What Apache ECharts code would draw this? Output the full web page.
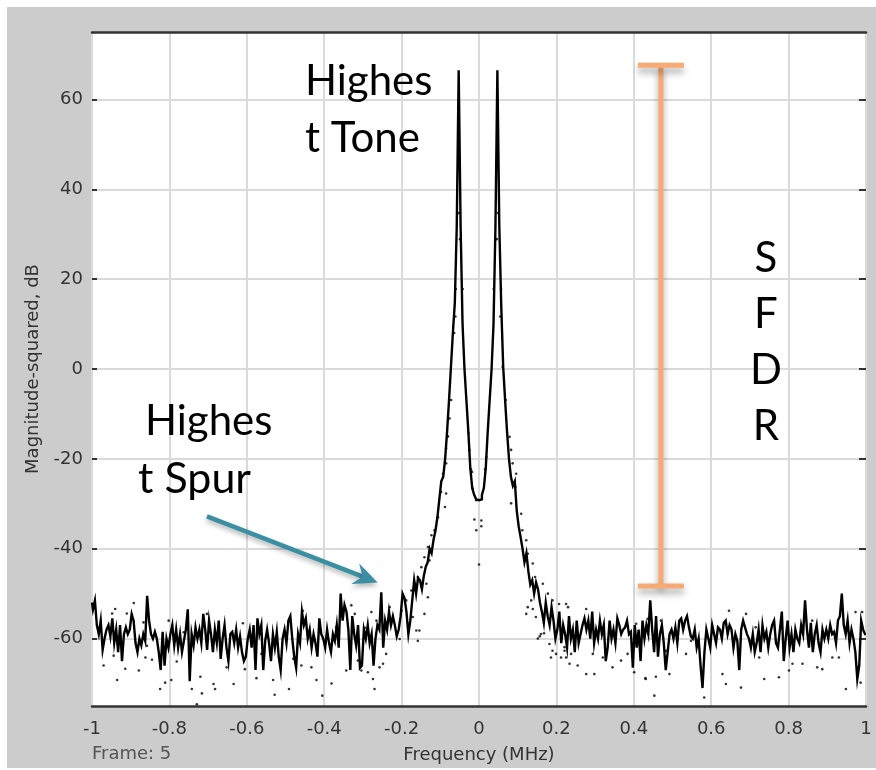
<!DOCTYPE html>
<html>
<head>
<meta charset="utf-8">
<script src="https://cdn.jsdelivr.net/npm/echarts@6/dist/echarts.min.js"></script>
<style>
  html, body { margin: 0; padding: 0; background: #ffffff; }
  #frame { position: absolute; left: 7px; top: 7px; width: 869px; height: 761px; background: #cccccc; }
  #chart { position: absolute; left: 0; top: 0; width: 876px; height: 770px; }
</style>
</head>
<body>
<div id="frame"></div>
<div id="chart"></div>
<script>
// Spectrum bins: -1 MHz .. +1 MHz in 5 kHz steps
const binStartMHz = -1;
const binStepMHz = 0.005;

// Magnitude-squared (dB) of each bin, drawn as a stepped trace
const magnitudeDb = [
  -52, -53.5, -51.5, -57, -59, -56, -62.5, -60, -58, -57, -59.5, -55.5, -61, -58, -63, -57, -65, -59, -57.5, -59,
  -58, -54.5, -56, -61, -63, -60, -61.5, -59, -60.5, -50.5, -56, -59, -60, -58.5, -60, -63, -67, -58.5, -66, -60,
  -62, -59, -57, -61.5, -58, -62, -59, -63, -60.5, -58, -53.5, -69.5, -59, -61.5, -57.5, -60, -58, -61, -54.5, -58,
  -62.5, -56, -59, -63, -58, -61, -56, -64.5, -60, -57, -62, -65, -59, -58.5, -61, -58, -62, -59.5, -63, -65,
  -64, -60, -58, -62, -57, -67, -55.5, -59, -57, -67, -60.5, -58, -61, -65, -59, -62, -58.5, -64, -67, -60,
  -58, -61, -56, -55, -60, -64, -66.5, -59, -61, -54, -57, -55.5, -60, -58, -62, -59, -61, -64, -55.5, -59,
  -60, -62, -58, -61, -63, -59, -60.5, -57, -62, -50, -56, -52.5, -54, -58, -67, -55, -59, -61.5, -57, -66.5,
  -66, -58, -60, -57, -61, -59, -66, -60, -57, -58, -49.7, -62, -56, -58, -54, -57, -55, -57, -59.5, -58,
  -55, -50, -51, -54, -59, -56, -51.5, -47, -50, -46.5, -47, -49, -46, -44, -43, -40, -41, -38, -36, -33,
  -29, -25, -24, -20, -14, -7, 0.5, 8, 14.7, 31.7, 66.5, 31.7, 10, 0, -7, -14, -22, -26.5, -28, -29,
  -29.2, -29, -28, -26.5, -22, -14, -7, 0, 10, 31.7, 66.5, 31.7, 14, 0.5, -7, -14, -20, -24, -26, -25,
  -31.5, -35, -37.4, -40, -43, -41, -45, -48, -47, -50, -47.5, -49, -52, -54, -56.5, -52, -55, -57, -53, -56,
  -60, -58, -54, -61, -57, -59, -62, -55, -60, -58, -63, -56, -61, -59, -57, -55.5, -58, -56, -60, -54,
  -61, -58, -60, -56, -59, -57, -65, -62, -56, -60, -58, -61, -55.5, -57, -59, -58, -57.5, -56, -59, -58.5,
  -66.5, -57, -62, -58, -65, -56, -60, -57, -59, -51.5, -58, -63, -55, -64, -59, -57, -61, -67, -63, -59,
  -58, -60, -57.5, -61, -56, -55.5, -58, -56, -55, -57.5, -59.5, -60, -58, -62, -60, -66, -71, -63, -58, -60,
  -62, -57, -59, -61, -57.5, -58, -60, -56.5, -56, -59, -57, -58, -62, -59, -60.5, -67, -58, -56, -57.5, -59,
  -60, -62, -59, -63, -61, -58, -63, -57, -60, -58.5, -62, -59, -57, -56, -61, -62, -58, -54, -65, -60,
  -56, -62, -59, -63, -58, -60, -61, -57, -59, -51.5, -58, -62, -56.5, -63, -59, -57, -61, -63, -58, -60,
  -58, -60, -57, -59, -58.5, -61, -56, -55, -50, -57, -59, -56, -61, -58, -60, -63, -69, -66, -56, -58,
  -59
];

// Second trace shown as loose points: [frequency MHz, dB]
const traceDots = [
  [-0.97,-66],[-0.948,-54.4],[-0.944,-63.8],[-0.94,-53.4],[-0.935,-69.2],[-0.914,-66.7],[-0.91,-54.4],[-0.892,-52.1],
  [-0.879,-67.1],[-0.867,-56.4],[-0.862,-64.2],[-0.858,-61.6],[-0.845,-64.7],[-0.824,-71.2],[-0.811,-69.8],[-0.802,-56],
  [-0.795,-69.2],[-0.781,-65.1],[-0.763,-58.6],[-0.742,-71.2],[-0.729,-74.6],[-0.72,-68.5],[-0.716,-72.2],[-0.703,-54.5],
  [-0.686,-70.1],[-0.682,-71.2],[-0.652,-66.4],[-0.634,-70.1],
  [-0.61,-56.6],[-0.605,-66.8],[-0.575,-68.8],[-0.562,-63.4],[-0.532,-69.2],[-0.528,-72.5],[-0.491,-71.2],[-0.48,-64.5],
  [-0.459,-66],[-0.455,-53.8],[-0.433,-66.4],[-0.42,-69.2],[-0.405,-72.7],[-0.381,-70],[-0.369,-57.5],[-0.343,-67.1],
  [-0.33,-52.6],[-0.321,-54.5],[-0.313,-64.9],[-0.304,-67.1],[-0.295,-57.6],[-0.287,-67.5],[-0.278,-54.1],[-0.274,-69],
  [-0.27,-71.2],[-0.265,-56],[-0.257,-66.4],[-0.248,-65.6],
  [-0.24,-63.4],[-0.231,-53],[-0.227,-56.7],[-0.205,-60.1],[-0.2,-53.8],[-0.188,-51.5],[-0.175,-49.3],[-0.171,-55.2],
  [-0.166,-47.8],[-0.162,-58.2],[-0.158,-46.3],[-0.158,-60.5],[-0.154,-58.2],[-0.149,-44.1],[-0.141,-41.9],[-0.141,-54.5],
  [-0.136,-47.8],[-0.132,-39.6],[-0.132,-50.8],[-0.128,-42.6],[-0.123,-37],[-0.115,-35.9],[-0.106,-33],[-0.098,-27.4],
  [-0.093,-23.3],[-0.088,-30.7],[-0.085,-17.7],[-0.085,-21],[-0.085,-27.7],[-0.08,-15],[-0.076,-11],[-0.072,-6.9],
  [-0.064,8],[-0.061,11.7],[-0.06,17.8],[-0.052,34.7],[-0.049,28.9],[-0.042,17.8],
  [-0.027,-14.3],[-0.025,-18],[-0.021,-22.3],[-0.018,-22.9],[-0.016,-26.6],[-0.012,-33.5],[-0.007,-29.2],[-0.007,-35.9],
  [0,-43.5],[0.006,-33.7],[0.006,-35],[0.016,-22.3],[0.019,-19.6],
  [0.038,17.8],[0.046,28.9],[0.049,34.7],[0.055,11.7],[0.057,17.8],[0.061,0.5],[0.069,-6.9],[0.079,-15.1],[0.083,-18],
  [0.083,-29.9],[0.087,-21],[0.094,-26.2],[0.096,-23.3],[0.109,-32.2],[0.112,-35.9],[0.122,-38.1],[0.122,-54.5],
  [0.126,-41.1],[0.126,-53],[0.135,-51.5],[0.139,-43.3],[0.139,-53.4],[0.145,-46.3],[0.147,-55.2],[0.152,-60],
  [0.157,-59.5],[0.16,-59],[0.165,-47.8],[0.168,-58.8],[0.178,-50],[0.182,-61.2],[0.186,-64.2],[0.19,-51.5],
  [0.19,-62.7],[0.199,-63.4],[0.207,-52.3],
  [0.212,-64.2],[0.221,-61.9],[0.221,-62.7],[0.225,-52.3],[0.225,-64.2],[0.23,-53],[0.234,-65.6],[0.238,-63.4],
  [0.255,-66],[0.277,-53.4],[0.277,-67.9],[0.294,-63.4],[0.298,-67.9],[0.32,-64.2],[0.345,-66.4],[0.367,-64.9],
  [0.384,-63.4],[0.401,-67.5],[0.406,-56.7],[0.43,-68.8],[0.431,-69],[0.436,-55.6],[0.453,-72.7],[0.457,-68.5],
  [0.47,-56],[0.483,-62.7],[0.492,-67.9],[0.535,-63.4],[0.548,-60.5],[0.582,-73.1],[0.629,-67.9],[0.638,-70.1],
  [0.646,-53.8],[0.677,-70.9],[0.69,-54.5],[0.715,-57.5],[0.724,-64.2],[0.737,-69],[0.775,-68.6],[0.801,-67.1],
  [0.81,-65.6],[0.836,-65.6],[0.861,-56],[0.874,-66.4],[0.887,-66.8],[0.913,-64.2],[0.93,-64.2],[0.948,-71.2],
  [0.973,-54.1],[0.978,-66.4],[0.986,-69.8],[0.99,-54.1]
];

// Axis ticks
const yTicks = [-60, -40, -20, 0, 20, 40, 60];

// SFDR bracket: [frequency, top dB, bottom dB]
const sfdrBracket = [[0.47, 67.6, -48.3]];
// Pointer to the highest spur: [from f, from dB, to f, to dB]
const spurPointer = [[-0.703, -32.8, -0.262, -47.5]];

const freqMHz = magnitudeDb.map((_, i) => +(binStartMHz + i * binStepMHz).toFixed(3));
const traceLine = freqMHz.map((f, i) => [f, magnitudeDb[i]]);

const axisFont = 'DejaVu Sans';
const noteFont = '42px Lato';

const chart = echarts.init(document.getElementById('chart'), null, { renderer: 'canvas' });

chart.setOption({
  backgroundColor: 'transparent',
  animation: false,
  grid: {
    left: 92, right: 10, top: 32, bottom: 64,
    show: true, backgroundColor: '#ffffff', borderWidth: 0
  },
  xAxis: [
    {
      type: 'value', min: -1, max: 1, interval: 0.2,
      position: 'bottom',
      name: 'Frequency (MHz)', nameLocation: 'middle', nameGap: 40,
      nameTextStyle: { fontFamily: axisFont, fontSize: 18, color: '#333' },
      axisLine: { show: true, onZero: false, lineStyle: { color: '#333', width: 2.5 } },
      axisTick: { show: false },
      axisLabel: {
        fontFamily: axisFont, fontSize: 18, color: '#333', margin: 14,
        formatter: v => String(Math.round(v * 10) / 10)
      },
      splitLine: { show: true, lineStyle: { color: '#dadada', width: 2 } }
    },
    {
      type: 'value', min: -1, max: 1, interval: 0.2,
      position: 'top',
      axisLine: { show: true, onZero: false, lineStyle: { color: '#333', width: 2.5 } },
      axisTick: { show: false }, axisLabel: { show: false }, splitLine: { show: false }
    }
  ],
  yAxis: [
    {
      type: 'value', min: -75, max: 75,
      position: 'left',
      name: 'Magnitude-squared, dB', nameLocation: 'middle', nameGap: 48, nameRotate: 90,
      nameTextStyle: { fontFamily: axisFont, fontSize: 18, color: '#333' },
      axisLine: { show: false, onZero: false },
      axisTick: { show: true, inside: true, length: 5, customValues: yTicks, lineStyle: { color: '#333', width: 2 } },
      axisLabel: { fontFamily: axisFont, fontSize: 18, color: '#333', margin: 9, customValues: yTicks },
      splitLine: { show: true, lineStyle: { color: '#dadada', width: 2 } }
    },
    {
      type: 'value', min: -75, max: 75,
      position: 'right',
      axisLine: { show: false, onZero: false },
      axisTick: { show: true, inside: true, length: 7, customValues: yTicks, lineStyle: { color: '#333', width: 2 } },
      axisLabel: { show: false },
      splitLine: { show: false }
    }
  ],
  series: [
    {
      name: 'trace', type: 'line', step: 'middle',
      data: traceLine, showSymbol: false,
      lineStyle: { color: '#000', width: 2.4, join: 'miter' },
      clip: true, z: 3
    },
    {
      name: 'points', type: 'scatter',
      data: traceDots, symbol: 'circle', symbolSize: 2.6,
      itemStyle: { color: '#000' }, z: 4
    },
    {
      name: 'sfdr', type: 'custom', data: sfdrBracket, z: 6,
      renderItem: (params, api) => {
        const top = api.coord([api.value(0), api.value(1)]);
        const bot = api.coord([api.value(0), api.value(2)]);
        const half = 23;
        const st = {
          stroke: '#f7aa73', lineWidth: 5,
          shadowColor: 'rgba(0,0,0,0.35)', shadowBlur: 7, shadowOffsetY: 5
        };
        return {
          type: 'group',
          children: [
            { type: 'line', shape: { x1: top[0], y1: top[1], x2: bot[0], y2: bot[1] }, style: st },
            { type: 'line', shape: { x1: top[0] - half, y1: top[1], x2: top[0] + half, y2: top[1] }, style: st },
            { type: 'line', shape: { x1: bot[0] - half, y1: bot[1], x2: bot[0] + half, y2: bot[1] }, style: st }
          ]
        };
      }
    },
    {
      name: 'spur pointer', type: 'custom', data: spurPointer, z: 6,
      renderItem: (params, api) => {
        const p0 = api.coord([api.value(0), api.value(1)]);
        const p1 = api.coord([api.value(2), api.value(3)]);
        const dx = p1[0] - p0[0], dy = p1[1] - p0[1];
        const len = Math.hypot(dx, dy);
        const ux = dx / len, uy = dy / len;
        const px = -uy, py = ux;
        const headLen = 24, headHalf = 11, notch = 16;
        const col = '#3b8fa2';
        const sh = { shadowColor: 'rgba(0,0,0,0.3)', shadowBlur: 5, shadowOffsetY: 3 };
        return {
          type: 'group',
          children: [
            {
              type: 'line',
              shape: { x1: p0[0], y1: p0[1], x2: p1[0] - ux * notch, y2: p1[1] - uy * notch },
              style: Object.assign({ stroke: col, lineWidth: 4.5 }, sh)
            },
            {
              type: 'polygon',
              shape: {
                points: [
                  [p1[0], p1[1]],
                  [p1[0] - ux * headLen + px * headHalf, p1[1] - uy * headLen + py * headHalf],
                  [p1[0] - ux * notch, p1[1] - uy * notch],
                  [p1[0] - ux * headLen - px * headHalf, p1[1] - uy * headLen - py * headHalf]
                ]
              },
              style: Object.assign({ fill: col }, sh)
            }
          ]
        };
      }
    }
  ],
  graphic: [
    { type: 'text', x: 92, y: 754, z: 10, style: { text: 'Frame: 5', font: '18px "DejaVu Sans"', fill: '#555', verticalAlign: 'middle' } },
    { type: 'text', x: 305, y: 81, z: 10, style: { text: 'Highes', font: noteFont, fill: '#000', verticalAlign: 'middle' } },
    { type: 'text', x: 305, y: 138, z: 10, style: { text: 't Tone', font: noteFont, fill: '#000', verticalAlign: 'middle' } },
    { type: 'text', x: 145, y: 421, z: 10, style: { text: 'Highes', font: noteFont, fill: '#000', verticalAlign: 'middle' } },
    { type: 'text', x: 138, y: 479, z: 10, style: { text: 't Spur', font: '43px Lato', fill: '#000', verticalAlign: 'middle' } },
    { type: 'text', x: 766, y: 258, z: 10, style: { text: 'S', font: noteFont, fill: '#000', align: 'center', verticalAlign: 'middle' } },
    { type: 'text', x: 766, y: 314, z: 10, style: { text: 'F', font: noteFont, fill: '#000', align: 'center', verticalAlign: 'middle' } },
    { type: 'text', x: 766, y: 370, z: 10, style: { text: 'D', font: noteFont, fill: '#000', align: 'center', verticalAlign: 'middle' } },
    { type: 'text', x: 766, y: 426, z: 10, style: { text: 'R', font: noteFont, fill: '#000', align: 'center', verticalAlign: 'middle' } }
  ]
});
</script>
</body>
</html>
